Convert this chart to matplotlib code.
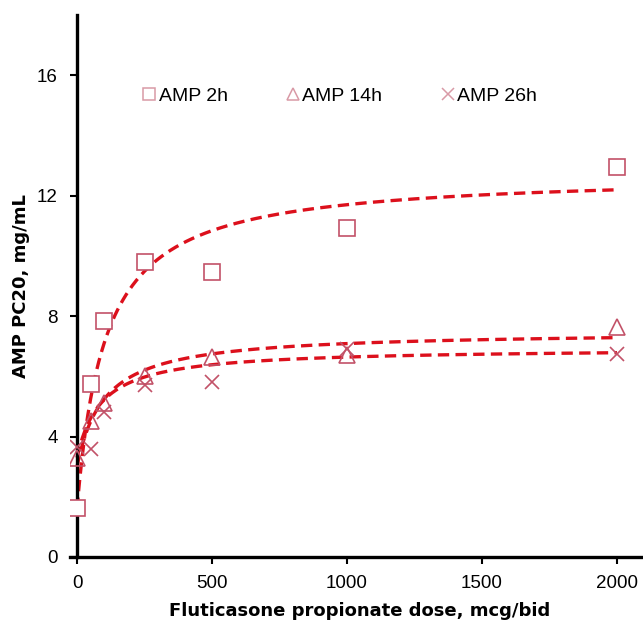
import numpy as np
import matplotlib
matplotlib.use("Agg")
import matplotlib.pyplot as plt

plt.rcParams["font.family"] = ["Liberation Sans", "DejaVu Sans"]

# doses (mcg/bid)
doses = [0, 50, 100, 250, 500, 1000, 2000]

# observed AMP PC20 (mg/mL)
amp_2h = [1.63, 5.75, 7.84, 9.8, 9.47, 10.93, 12.96]
amp_14h = [3.3, 4.5, 5.1, 6.0, 6.65, 6.7, 7.63]
amp_26h = [3.65, 3.6, 4.8, 5.7, 5.8, 6.9, 6.75]

# Emax fit parameters: E0, Emax, ED50
fit_2h = [1.6, 11.14, 103]
fit_14h = [3.0, 4.5, 101]
fit_26h = [3.3, 3.64, 90]

labels = ["AMP 2h", "AMP 14h", "AMP 26h"]

mk_color = "#c25268"
line_color = "#dc101c"
bold_font = {"family": "DejaVu Sans", "weight": "bold", "size": 13}

fig = plt.figure(figsize=(6.43, 6.21), dpi=100)
ax = fig.add_axes([0.1089, 0.1031, 0.891, 0.8728])

dd = np.linspace(0, 2000, 400)
for p in (fit_2h, fit_14h, fit_26h):
    e0, emax, ed50 = p
    ax.plot(dd, e0 + emax * dd / (ed50 + dd), ls=(0, (3.4, 1.9)), color=line_color,
            lw=2.4, zorder=2)

ax.plot(doses, amp_2h, ls="none", marker="s", ms=11, mfc="white", mec=mk_color,
        mew=1.2, label=labels[0], zorder=3)
ax.plot(doses, amp_14h, ls="none", marker="^", ms=11, mfc="none", mec=mk_color,
        mew=1.2, label=labels[1], zorder=3)
ax.plot(doses, amp_26h, ls="none", marker="x", ms=10.5, color=mk_color,
        mew=1.2, label=labels[2], zorder=3)

ax.set_xlim(-26, 2096)
ax.set_ylim(0, 18)
ax.set_xticks([0, 500, 1000, 1500, 2000])
ax.set_yticks([0, 4, 8, 12, 16])

ax.spines["left"].set_position(("data", 0))
ax.spines["right"].set_visible(False)
ax.spines["top"].set_visible(False)
ax.spines["left"].set_linewidth(2.4)
ax.spines["bottom"].set_linewidth(2.4)
ax.tick_params(axis="both", labelsize=13.5, width=1.5, length=5, direction="out")
ax.tick_params(axis="y", pad=9)
ax.tick_params(axis="x", pad=8)

ax.set_xlabel("Fluticasone propionate dose, mcg/bid", fontdict=bold_font, va="top")
ax.xaxis.set_label_coords(0.506, -0.083)
ax.set_ylabel("AMP PC20, mg/mL", fontdict=bold_font)
ax.yaxis.set_label_coords(-0.070, 0.5)

leg = ax.legend(loc="center left", bbox_to_anchor=(0.1257, 0.8506), ncol=3,
                frameon=False, fontsize=14, handlelength=0.7, handletextpad=0.15,
                columnspacing=3.0, borderpad=0, borderaxespad=0, markerscale=0.85)
for h in leg.legend_handles:
    h.set_markeredgecolor("#d99aa6")
    h.set_markeredgewidth(1.1)

fig.savefig("out.png", dpi=100)
